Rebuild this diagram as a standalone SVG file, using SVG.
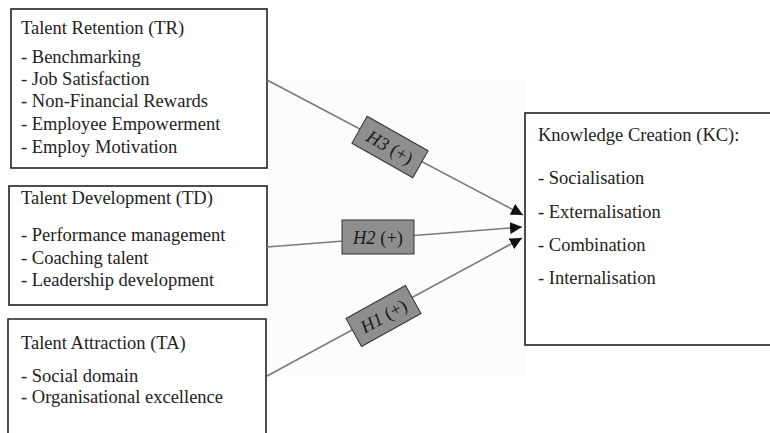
<svg xmlns="http://www.w3.org/2000/svg" width="770" height="433" viewBox="0 0 770 433">
<style>
.box{fill:#fff;stroke:#222;stroke-width:1.6}
.t{font-family:"Liberation Serif","Times New Roman",serif;font-size:18.5px;fill:#222}
.con{stroke:#7a7a7a;stroke-width:1.6;fill:none}
.lab{fill:#8e8e8e;stroke:#333;stroke-width:1}
.lt{font-family:"Liberation Serif","Times New Roman",serif;font-size:18.5px;fill:#1a1a1a;text-anchor:middle}
</style>
<defs>
<marker id="ah" markerUnits="userSpaceOnUse" markerWidth="14" markerHeight="12" refX="12" refY="6" orient="auto">
<path d="M0,0 L12,6 L0,12 Z" fill="#111"/>
</marker>
</defs>
<rect width="770" height="433" fill="#fff"/>
<rect x="267" y="80" width="259" height="297" fill="#fcfcfc"/>
<g id="TR">
<rect class="box" x="11" y="9" width="256" height="159"/>
<text class="t" x="21" y="34">Talent Retention (TR)</text>
<text class="t" x="21" y="63">- Benchmarking</text>
<text class="t" x="21" y="85">- Job Satisfaction</text>
<text class="t" x="21" y="107">- Non-Financial Rewards</text>
<text class="t" x="21" y="130">- Employee Empowerment</text>
<text class="t" x="21" y="153">- Employ Motivation</text>
</g>
<g id="TD">
<rect class="box" x="9" y="186" width="258" height="119"/>
<text class="t" x="21" y="204">Talent Development (TD)</text>
<text class="t" x="21" y="241">- Performance management</text>
<text class="t" x="21" y="264">- Coaching talent</text>
<text class="t" x="21" y="286">- Leadership development</text>
</g>
<g id="TA">
<path class="box" d="M8,440 L8,319 L266,319 L266,440"/>
<text class="t" x="21" y="349">Talent Attraction (TA)</text>
<text class="t" x="21" y="382">- Social domain</text>
<text class="t" x="21" y="403">- Organisational excellence</text>
</g>
<g id="KC">
<rect class="box" x="525" y="113" width="260" height="232"/>
<text class="t" x="538" y="141">Knowledge Creation (KC):</text>
<text class="t" x="538" y="184">- Socialisation</text>
<text class="t" x="538" y="218">- Externalisation</text>
<text class="t" x="538" y="251">- Combination</text>
<text class="t" x="538" y="284">- Internalisation</text>
</g>
<g id="connectors">
<line class="con" x1="267" y1="80" x2="523" y2="215" marker-end="url(#ah)"/>
<line class="con" x1="267" y1="247" x2="522" y2="227" marker-end="url(#ah)"/>
<line class="con" x1="267" y1="376" x2="522" y2="238" marker-end="url(#ah)"/>
<g id="H3" transform="translate(390,147) rotate(29.5)">
<rect class="lab" x="-35" y="-15.5" width="70" height="31"/>
<text class="lt" x="0" y="6.5"><tspan font-style="italic">H3</tspan> (+)</text>
</g>
<g id="H2" transform="translate(378,237)">
<rect class="lab" x="-36" y="-17" width="72" height="34"/>
<text class="lt" x="0" y="6.5"><tspan font-style="italic">H2</tspan> (+)</text>
</g>
<g id="H1" transform="translate(383.5,316) rotate(-29)">
<rect class="lab" x="-34" y="-16" width="68" height="32"/>
<text class="lt" x="0" y="6.5"><tspan font-style="italic">H1</tspan> (+)</text>
</g>
</g>
</svg>
